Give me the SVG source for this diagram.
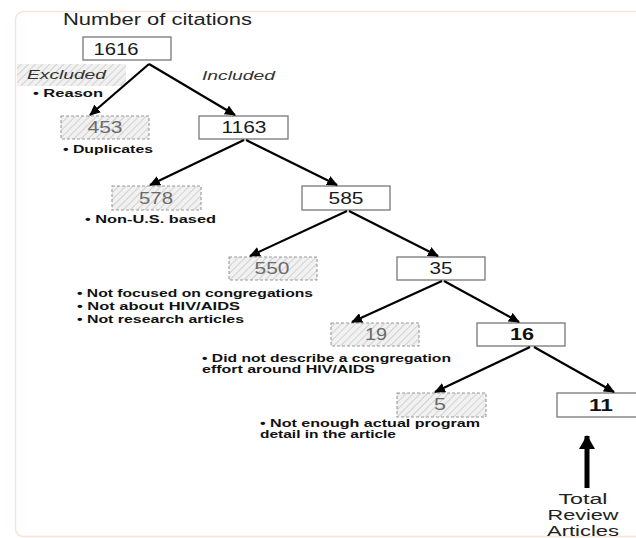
<svg xmlns="http://www.w3.org/2000/svg" width="636" height="538" viewBox="0 0 636 538">
<defs>
<pattern id="hatch" patternUnits="userSpaceOnUse" width="5" height="5" patternTransform="rotate(45)">
<rect width="5" height="5" fill="#f1f1f1"/>
<line x1="0" y1="0" x2="0" y2="5" stroke="#c4c4c4" stroke-width="1.4"/>
</pattern>
<marker id="ah" markerUnits="userSpaceOnUse" markerWidth="12" markerHeight="10" refX="10" refY="5" orient="auto">
<path d="M0,0 L11,5 L0,10 z" fill="#000"/>
</marker>
<marker id="bigah" markerUnits="userSpaceOnUse" markerWidth="16" markerHeight="16" refX="13" refY="8" orient="auto">
<path d="M0,0 L14,8 L0,16 z" fill="#000"/>
</marker>
</defs>
<style>
text{font-family:"Liberation Sans",Arial,sans-serif;}
.num{font-size:16px;fill:#1a1a1a;text-anchor:middle;}
.numx{font-size:16px;fill:#6a6a6a;text-anchor:middle;}
.numb{font-size:16px;fill:#111;text-anchor:middle;font-weight:bold;}
.rs{font-size:11.5px;font-weight:bold;fill:#111;}
.lab{font-size:12.5px;font-style:italic;fill:#333;}
.big{font-size:16px;fill:#222;}
.tot{font-size:14px;fill:#222;text-anchor:middle;}
.inc{fill:#fff;stroke:#777;stroke-width:1.3;}
.exc{fill:url(#hatch);stroke:#999;stroke-width:1.1;stroke-dasharray:3,2;}
.conn line{stroke:#000;stroke-width:2.2;marker-end:url(#ah);}
</style>
<rect width="636" height="538" fill="#fff"/>
<rect x="15.5" y="11.5" width="640" height="525" rx="8" fill="none" stroke="#f5e4d8" stroke-width="1.5"/>

<text class="big" x="63" y="25" textLength="189" lengthAdjust="spacingAndGlyphs">Number of citations</text>

<g id="legend">
<rect x="17" y="64" width="109" height="22" fill="url(#hatch)"/>
<text class="lab" x="27" y="79" textLength="79" lengthAdjust="spacingAndGlyphs">Excluded</text>
<text class="rs" x="33" y="97" textLength="70" lengthAdjust="spacingAndGlyphs">• Reason</text>
<text class="lab" x="202" y="80" textLength="73" lengthAdjust="spacingAndGlyphs">Included</text>
</g>

<g id="n1616">
<rect class="inc" x="83" y="37" width="88" height="23"/>
<text class="num" x="116" y="54.5" textLength="45" lengthAdjust="spacingAndGlyphs">1616</text>
</g>
<g id="n453">
<rect class="exc" x="61" y="116" width="88" height="23"/>
<text class="numx" x="105" y="133" textLength="35" lengthAdjust="spacingAndGlyphs">453</text>
<text class="rs" x="63" y="153" textLength="90" lengthAdjust="spacingAndGlyphs">• Duplicates</text>
</g>
<g id="n1163">
<rect class="inc" x="199" y="116" width="89" height="23"/>
<text class="num" x="244" y="133" textLength="45" lengthAdjust="spacingAndGlyphs">1163</text>
</g>
<g id="n578">
<rect class="exc" x="112" y="186" width="89" height="24"/>
<text class="numx" x="156" y="204" textLength="34" lengthAdjust="spacingAndGlyphs">578</text>
<text class="rs" x="85" y="223" textLength="131" lengthAdjust="spacingAndGlyphs">• Non-U.S. based</text>
</g>
<g id="n585">
<rect class="inc" x="302" y="186" width="88" height="24"/>
<text class="num" x="346" y="204" textLength="35" lengthAdjust="spacingAndGlyphs">585</text>
</g>
<g id="n550">
<rect class="exc" x="229" y="257" width="88" height="23"/>
<text class="numx" x="272" y="274" textLength="35" lengthAdjust="spacingAndGlyphs">550</text>
<text class="rs" x="77" y="297" textLength="236" lengthAdjust="spacingAndGlyphs">• Not focused on congregations</text>
<text class="rs" x="77" y="310" textLength="163" lengthAdjust="spacingAndGlyphs">• Not about HIV/AIDS</text>
<text class="rs" x="77" y="323" textLength="167" lengthAdjust="spacingAndGlyphs">• Not research articles</text>
</g>
<g id="n35">
<rect class="inc" x="397" y="257" width="88" height="23"/>
<text class="num" x="441" y="274" textLength="23" lengthAdjust="spacingAndGlyphs">35</text>
</g>
<g id="n19">
<rect class="exc" x="331" y="323" width="88" height="23"/>
<text class="numx" x="376" y="339.5" textLength="22" lengthAdjust="spacingAndGlyphs">19</text>
<text class="rs" x="202" y="362" textLength="249" lengthAdjust="spacingAndGlyphs">• Did not describe a congregation</text>
<text class="rs" x="202" y="373" textLength="173" lengthAdjust="spacingAndGlyphs">effort around HIV/AIDS</text>
</g>
<g id="n16">
<rect class="inc" x="477" y="323" width="88" height="23"/>
<text class="numb" x="522" y="340" textLength="24" lengthAdjust="spacingAndGlyphs">16</text>
</g>
<g id="n5">
<rect class="exc" x="397" y="393" width="89" height="24"/>
<text class="numx" x="440" y="410" textLength="12" lengthAdjust="spacingAndGlyphs">5</text>
<text class="rs" x="260" y="427" textLength="220" lengthAdjust="spacingAndGlyphs">• Not enough actual program</text>
<text class="rs" x="260" y="438" textLength="136" lengthAdjust="spacingAndGlyphs">detail in the article</text>
</g>
<g id="n11">
<rect class="inc" x="557" y="393" width="90" height="24"/>
<text class="numb" x="601" y="410.5" textLength="24" lengthAdjust="spacingAndGlyphs">11</text>
</g>
<g id="total">
<text class="tot" x="583" y="504" textLength="49" lengthAdjust="spacingAndGlyphs">Total</text>
<text class="tot" x="583" y="520" textLength="71" lengthAdjust="spacingAndGlyphs">Review</text>
<text class="tot" x="583" y="536" textLength="72" lengthAdjust="spacingAndGlyphs">Articles</text>
</g>

<g id="connectors" class="conn">
<line x1="149" y1="64" x2="90" y2="115"/>
<line x1="149" y1="64" x2="235" y2="115"/>
<line x1="244" y1="140" x2="150" y2="185"/>
<line x1="246" y1="140" x2="337" y2="185"/>
<line x1="347" y1="211" x2="250" y2="256"/>
<line x1="349" y1="211" x2="438" y2="256"/>
<line x1="442" y1="281" x2="352" y2="322"/>
<line x1="444" y1="281" x2="519" y2="322"/>
<line x1="530" y1="347" x2="435" y2="392"/>
<line x1="534" y1="347" x2="614" y2="392"/>
<line x1="587" y1="488" x2="587" y2="436" style="stroke-width:5;marker-end:url(#bigah)"/>
</g>
</svg>
